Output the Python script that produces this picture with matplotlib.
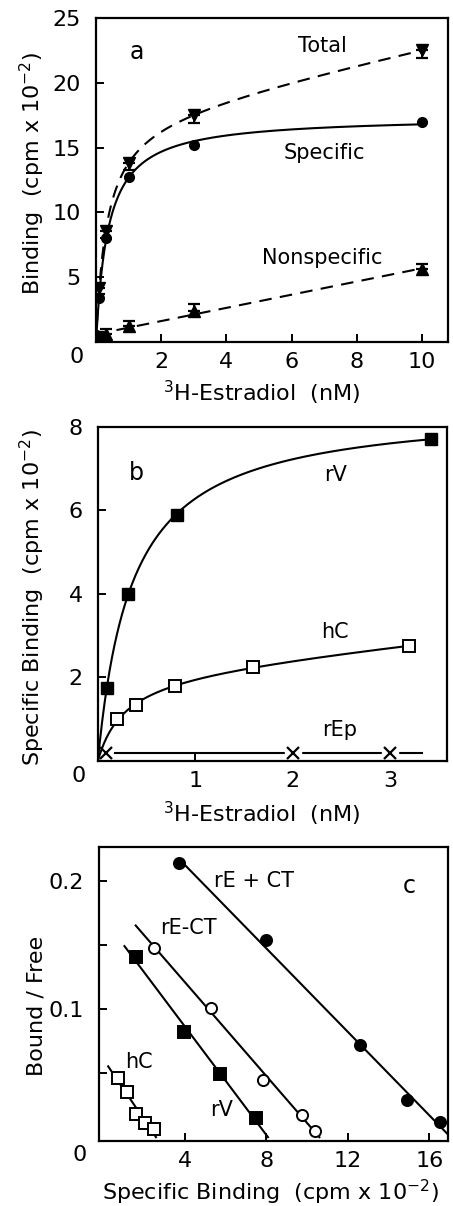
"""Three-panel 3H-estradiol binding figure (saturation curves + Scatchard plot)."""
import numpy as np
import matplotlib
matplotlib.use("Agg")
import matplotlib.pyplot as plt

plt.rcParams["font.family"] = ["DejaVu Sans"]
plt.rcParams["mathtext.fontset"] = "dejavusans"

# ---- panel a: binding vs 3H-estradiol ----
A_X = [0.1, 0.3, 1.0, 3.0, 10.0]
A_TOTAL = [4.2, 8.6, 13.8, 17.5, 22.5]
A_TOTAL_ERR = [0.5, 0.6, 0.5, 0.6, 0.6]
A_SPECIFIC = [3.4, 8.0, 12.7, 15.2, 17.0]
A_NONSPEC_X = [0.05, 0.3, 1.0, 3.0, 10.0]
A_NONSPEC = [0.5, 0.6, 1.2, 2.4, 5.6]
A_NONSPEC_ERR = [0.3, 0.4, 0.4, 0.5, 0.4]

# ---- panel b: specific binding per tissue ----
B_RV_X = [0.09, 0.31, 0.81, 3.42]
B_RV = [1.75, 4.0, 5.88, 7.72]
B_HC_X = [0.2, 0.39, 0.79, 1.59, 3.19]
B_HC = [1.0, 1.33, 1.8, 2.25, 2.75]
B_REP_X = [0.08, 2.0, 3.0]
B_REP = [0.2, 0.2, 0.2]

# ---- panel c: Scatchard ----
C_REPCT_X = [3.7, 8.0, 12.6, 14.9, 16.5]
C_REPCT = [0.214, 0.154, 0.072, 0.029, 0.012]
C_REMCT_X = [2.5, 5.3, 7.85, 9.75, 10.4]
C_REMCT = [0.148, 0.101, 0.045, 0.017, 0.005]
C_RV_X = [1.6, 3.95, 5.75, 7.5]
C_RV = [0.141, 0.082, 0.049, 0.015]
C_HC_X = [0.75, 1.15, 1.6, 2.05, 2.5]
C_HC = [0.046, 0.035, 0.018, 0.011, 0.006]
# where each fitted Scatchard line starts (x)
C_LINE_X0 = {"rE+CT": 3.7, "rE-CT": 1.6, "rV": 1.05, "hC": 0.25}

TICK_FS = 16
TEXT_FS = 15
LABEL_FS = 16


def fit_hyperbola(x, y, linear=False):
    """Least squares Bmax*x/(Kd+x) (+ c*x), grid over Kd."""
    x = np.asarray(x, float)
    y = np.asarray(y, float)
    best = None
    for kd in np.logspace(-2.5, 1.5, 800):
        cols = [x / (kd + x)]
        if linear:
            cols.append(x)
        M = np.column_stack(cols)
        coef, *_ = np.linalg.lstsq(M, y, rcond=None)
        res = np.sum((M @ coef - y) ** 2)
        if best is None or res < best[0]:
            best = (res, kd, coef)
    _, kd, coef = best
    c = coef[1] if linear else 0.0
    return lambda t: coef[0] * t / (kd + t) + c * t


def style_axes(ax):
    for s in ax.spines.values():
        s.set_linewidth(1.6)
    ax.tick_params(direction="in", length=6, width=1.4, labelsize=TICK_FS, pad=7)
    ax.tick_params(axis="y", pad=11)


def zero_label(ax):
    ax.text(-0.035, -0.015, "0", transform=ax.transAxes, ha="right", va="top", fontsize=TICK_FS)


LW = 1.5
fig = plt.figure(figsize=(4.53, 12.06), dpi=100)

# ================= a =================
ax = fig.add_axes([0.212, 0.7164, 0.777, 0.2687])
xs = np.linspace(0, 10, 400)
ns_fit = np.polyfit(A_NONSPEC_X, A_NONSPEC, 1)
ax.plot(xs, fit_hyperbola(A_X, A_TOTAL, linear=True)(xs), "k--", lw=LW, dashes=(6, 4))
ax.plot(xs, fit_hyperbola(A_X, A_SPECIFIC)(xs), "k-", lw=LW)
ax.plot(xs, np.polyval(ns_fit, xs), "k--", lw=LW, dashes=(6, 4))
ax.errorbar(A_X, A_TOTAL, yerr=[A_TOTAL_ERR, [0] * 5], fmt="v", color="k", ms=8,
            capsize=4, elinewidth=1.4, capthick=1.6)
ax.plot(A_X, A_SPECIFIC, "o", color="k", ms=7)
ax.errorbar(A_NONSPEC_X, A_NONSPEC, yerr=[[0] * 5, A_NONSPEC_ERR], fmt="^", color="k",
            ms=8, capsize=4, elinewidth=1.4, capthick=1.6)
ax.set_xlim(0, 10.8)
ax.set_ylim(0, 25)
ax.set_xticks([2, 4, 6, 8, 10])
ax.set_yticks([5, 10, 15, 20, 25])
style_axes(ax)
zero_label(ax)
ax.text(1.25, 22.4, "a", fontsize=TEXT_FS + 2, ha="center", va="center")
ax.text(6.95, 22.8, "Total", fontsize=TEXT_FS, ha="center", va="center")
ax.text(7.0, 14.6, "Specific", fontsize=TEXT_FS, ha="center", va="center")
ax.text(6.95, 6.5, "Nonspecific", fontsize=TEXT_FS, ha="center", va="center")
ax.set_ylabel(r"Binding  (cpm x 10$^{-2}$)", fontsize=LABEL_FS)
ax.set_xlabel(r"$^{3}$H-Estradiol  (nM)", fontsize=LABEL_FS)
ax.yaxis.set_label_coords(-0.14, 0.52)
ax.xaxis.set_label_coords(0.47, -0.115)

# ================= b =================
ax = fig.add_axes([0.216, 0.369, 0.770, 0.277])
xs = np.linspace(0, 3.42, 400)
ax.plot(xs, fit_hyperbola(B_RV_X, B_RV)(xs), "k-", lw=LW, zorder=3)
xs2 = np.linspace(0, 3.19, 400)
ax.plot(xs2, fit_hyperbola(B_HC_X, B_HC, linear=True)(xs2), "k-", lw=LW, zorder=3)
ax.plot([0.18, 3.33], [B_REP[0], B_REP[0]], "k-", lw=LW, zorder=2)
ax.plot(B_REP_X[1:], B_REP[1:], "s", color="white", ms=11, zorder=2.5)
ax.plot(B_REP_X, B_REP, "x", color="k", ms=8, mew=1.6, zorder=4)
ax.plot(B_RV_X, B_RV, "s", color="k", ms=8, zorder=4)
ax.plot(B_HC_X, B_HC, "s", mfc="white", mec="k", mew=1.4, ms=8, zorder=4)
ax.set_xlim(0, 3.58)
ax.set_ylim(0, 8)
ax.set_xticks([1, 2, 3])
ax.set_yticks([2, 4, 6, 8])
style_axes(ax)
zero_label(ax)
ax.text(0.4, 6.9, "b", fontsize=TEXT_FS + 2, ha="center", va="center")
ax.text(2.44, 6.85, "rV", fontsize=TEXT_FS, ha="center", va="center")
ax.text(2.43, 3.1, "hC", fontsize=TEXT_FS, ha="center", va="center")
ax.text(2.48, 0.74, "rEp", fontsize=TEXT_FS, ha="center", va="center")
ax.set_ylabel(r"Specific Binding  (cpm x 10$^{-2}$)", fontsize=LABEL_FS)
ax.set_xlabel(r"$^{3}$H-Estradiol  (nM)", fontsize=LABEL_FS)
ax.yaxis.set_label_coords(-0.145, 0.49)
ax.xaxis.set_label_coords(0.47, -0.117)

# ================= c =================
ax = fig.add_axes([0.2185, 0.0539, 0.770, 0.2438])
series = [
    ("rE+CT", C_REPCT_X, C_REPCT, dict(marker="o", mfc="k")),
    ("rE-CT", C_REMCT_X, C_REMCT, dict(marker="o", mfc="white")),
    ("rV", C_RV_X, C_RV, dict(marker="s", mfc="k")),
    ("hC", C_HC_X, C_HC, dict(marker="s", mfc="white")),
]
for name, x, y, mk in series:
    slope, icpt = np.polyfit(x, y, 1)
    x0 = C_LINE_X0[name]
    x1 = -icpt / slope
    ax.plot([x0, x1], [slope * x0 + icpt, 0], "k-", lw=LW)
    ax.plot(x, y, ls="none", mec="k", mew=1.4, ms=8, **mk)
ax.set_xlim(-0.2, 16.9)
ax.set_ylim(-0.003, 0.2265)
ax.set_xticks([4, 8, 12, 16])
ax.set_yticks([0.05, 0.1, 0.15, 0.2])
ax.set_yticklabels(["", "0.1", "", "0.2"])
style_axes(ax)
zero_label(ax)
ax.text(7.4, 0.2, "rE + CT", fontsize=TEXT_FS, ha="center", va="center")
ax.text(4.2, 0.163, "rE-CT", fontsize=TEXT_FS, ha="center", va="center")
ax.text(1.75, 0.059, "hC", fontsize=TEXT_FS, ha="center", va="center")
ax.text(5.8, 0.021, "rV", fontsize=TEXT_FS, ha="center", va="center")
ax.text(15.0, 0.196, "c", fontsize=TEXT_FS + 2, ha="center", va="center")
ax.set_ylabel("Bound / Free", fontsize=LABEL_FS)
ax.set_xlabel(r"Specific Binding  (cpm x 10$^{-2}$)", fontsize=LABEL_FS)
ax.yaxis.set_label_coords(-0.15, 0.46)
ax.xaxis.set_label_coords(0.49, -0.125)

fig.savefig("out.png", dpi=100)
